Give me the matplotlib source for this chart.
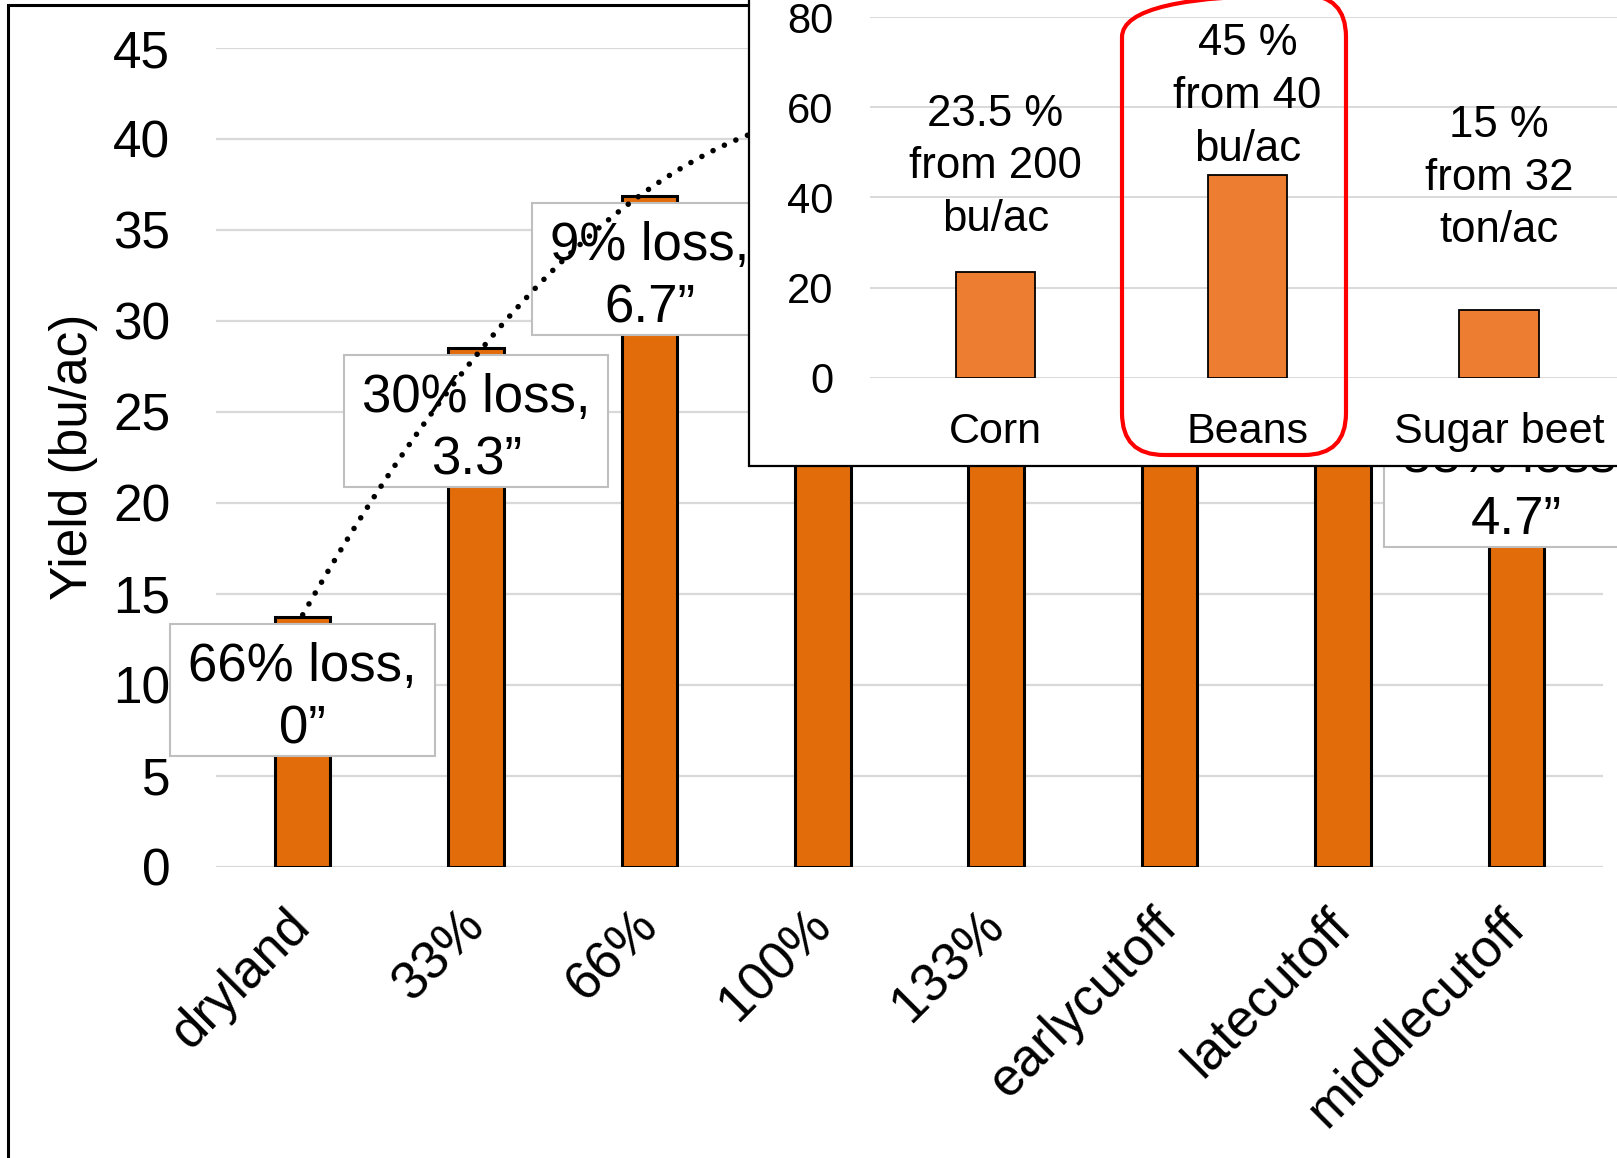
import numpy as np
import matplotlib.pyplot as plt
from matplotlib.path import Path
from matplotlib.patches import Rectangle, FancyBboxPatch

plt.rcParams['font.family'] = ['Liberation Sans', 'DejaVu Sans']

# --- main chart data ---
treatments = ['dryland', '33%', '66%', '100%', '133%', 'earlycutoff', 'latecutoff', 'middlecutoff']
yield_bu = [13.7, 28.5, 36.85, 41.5, 40.5, 36.0, 38.0, 25.2]
loss_pct = ['66%', '30%', '9%', None, None, None, None, '38%']
water_in = ['0', '3.3', '6.7', None, None, None, None, '4.7']

# --- inset data ---
crops = ['Corn', 'Beans', 'Sugar beet']
crop_loss = [23.5, 45, 15]
base_amount = ['200', '40', '32']
base_unit = ['bu/ac', 'bu/ac', 'ton/ac']

W, H = 1617, 1158


def label_box(x0, y0, width, height, mutation_size):
    # Excel-like data label box: wide sides, more room on top than below
    px = 0.34 * mutation_size
    top, bot = 0.33 * mutation_size, 0.03 * mutation_size
    return Path([(x0 - px, y0 - bot), (x0 + width + px, y0 - bot),
                 (x0 + width + px, y0 + height + top), (x0 - px, y0 + height + top),
                 (x0 - px, y0 - bot)], closed=True)


fig = plt.figure(figsize=(W / 100, H / 100), dpi=100)

# main plot area
ax = fig.add_axes([216 / W, 1 - 866.5 / H, 1387 / W, 818.5 / H])
x = np.arange(len(treatments))
ax.bar(x, yield_bu, width=0.32, color='#E36C0A', edgecolor='black', linewidth=2.2, zorder=2)
ax.set_xlim(-0.5, len(treatments) - 0.5)
ax.set_ylim(0, 45)
ax.set_yticks(np.arange(0, 46, 5))
ax.grid(axis='y', color='#D9D9D9', linewidth=1.6, zorder=0)
ax.set_axisbelow(True)
for s in ax.spines.values():
    s.set_visible(False)
ax.tick_params(axis='both', length=0)
ax.tick_params(axis='y', labelsize=37, pad=33)
ax.tick_params(axis='x', labelsize=38, pad=37)
ax.set_xticks(x, treatments)
plt.setp(ax.get_xticklabels(), rotation=45, ha='right', va='center', rotation_mode='anchor')
ax.set_ylabel('Yield (bu/ac)', fontsize=37)
ax.yaxis.set_label_coords(-0.085, 0.5)

# data labels
for i, (v, l, w) in enumerate(zip(yield_bu, loss_pct, water_in)):
    if l is None:
        continue
    ax.annotate(f'{l} loss,\n{w}\u201d', xy=(i, v), xytext=(0, -17.6), textcoords='offset points',
                ha='center', va='top', fontsize=38, linespacing=1.32, zorder=3,
                bbox=dict(boxstyle=label_box, fc='white', ec='#BFBFBF', lw=1.5))

# dotted trendline over the irrigation levels
coef = np.polyfit(x[:4], yield_bu[:4], 2)
xs = np.linspace(0, 3, 200)
ax.plot(xs, np.polyval(coef, xs), color='black', linewidth=4,
        linestyle=(0, (0.01, 2.25)), dash_capstyle='round', zorder=4)

# outer chart frame
fig.patches.append(Rectangle((0.08, -1), 30, (H - 5) / 100 + 1, transform=fig.dpi_scale_trans,
                             fill=False, ec='black', lw=2.2, zorder=1))

# inset frame
fig.patches.append(Rectangle((7.49, (H - 466) / 100), 20, 10, transform=fig.dpi_scale_trans,
                             fc='white', ec='black', lw=1.6, zorder=1))

ax2 = fig.add_axes([869.6 / W, 1 - 377.7 / H, (1625 - 869.6) / W, (377.7 - 17.2) / H], zorder=2)
ax2.patch.set_visible(False)
xi = np.arange(len(crops))
ax2.bar(xi, crop_loss, width=0.315, color='#ED7D31', edgecolor='black', linewidth=1.3, zorder=2)
ax2.set_xlim(-0.5, len(crops) - 0.5)
ax2.set_ylim(0, 80)
ax2.set_yticks(np.arange(0, 81, 20))
ax2.grid(axis='y', color='#D9D9D9', linewidth=1.4, zorder=0)
ax2.set_axisbelow(True)
for s in ax2.spines.values():
    s.set_visible(False)
ax2.tick_params(axis='both', length=0)
ax2.tick_params(axis='y', labelsize=30, pad=26)
ax2.tick_params(axis='x', labelsize=31, pad=25)
ax2.set_xticks(xi, crops)

text_y = [46.8, 62.4, 44.3]
for i, (p, a, u) in enumerate(zip(crop_loss, base_amount, base_unit)):
    ax2.text(i, text_y[i], f'{p:g} %\nfrom {a}\n{u}', ha='center', va='center',
             fontsize=31.5, linespacing=1.36, zorder=3)

# red highlight around Beans
fig.patches.append(FancyBboxPatch((11.22, (H - 455) / 100), 2.24, 4.6,
                                  boxstyle='round,pad=0,rounding_size=0.42',
                                  transform=fig.dpi_scale_trans, fc='none', ec='#FF0000',
                                  lw=3, zorder=3))

fig.savefig('out.png', dpi=100)
